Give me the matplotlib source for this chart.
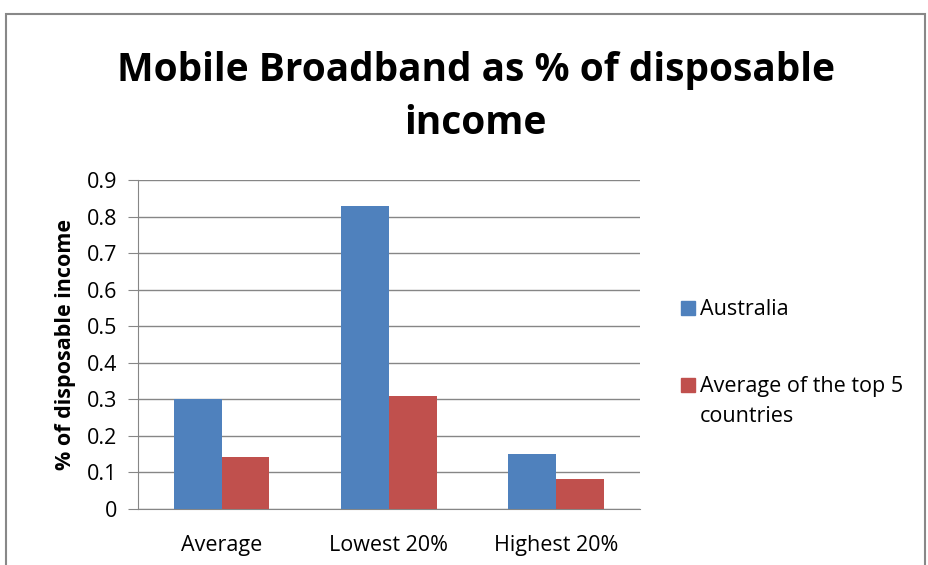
import matplotlib.pyplot as plt
import numpy as np
from matplotlib.patches import Rectangle

categories = ['Average', 'Lowest 20%', 'Highest 20%']
australia = [0.30, 0.83, 0.15]
top5_avg = [0.142, 0.31, 0.083]
series_names = ['Australia', 'Average of the top 5\ncountries']
colors = ['#4f81bd', '#c0504d']
yticks = [0, 0.1, 0.2, 0.3, 0.4, 0.5, 0.6, 0.7, 0.8, 0.9]

plt.rcParams['font.family'] = ['Open Sans', 'DejaVu Sans']

fig = plt.figure(figsize=(9.29, 5.65), dpi=100)
ax = fig.add_axes([0.1486, 0.0991, 0.540, 0.5823])

x = np.arange(len(categories))
w = 1 / 3.5
ax.bar(x - w / 2, australia, w, color=colors[0], zorder=3)
ax.bar(x + w / 2, top5_avg, w, color=colors[1], zorder=3)

ax.set_xlim(-0.5, 2.5)
ax.set_ylim(0, 0.9)
ax.set_yticks(yticks)
ax.set_yticklabels(['0'] + ['%.1f' % v for v in yticks[1:]])
ax.set_xticks(x)
ax.set_xticklabels(categories)
ax.grid(axis='y', color='#868686', lw=1, zorder=0)
for s in ['top', 'right']:
    ax.spines[s].set_visible(False)
for s in ['left', 'bottom']:
    ax.spines[s].set_color('#868686')
ax.tick_params(axis='y', length=7, color='#868686', labelsize=15.5, pad=8)
ax.tick_params(axis='x', length=0, labelsize=15.5, pad=19)
ax.set_ylabel('% of disposable income', fontsize=15.5, fontweight='bold', labelpad=8)

fig.text(0.512, 1 - 97 / 565, 'Mobile Broadband as % of disposable\nincome', ha='center', va='center',
         fontsize=28, fontweight='bold', linespacing=1.5)

# legend, drawn by hand so the swatch sits on the first text line
leg_y = [1 - 308 / 565, 1 - 385 / 565]
for name, c, yy in zip(series_names, colors, leg_y):
    fig.patches.append(Rectangle((681 / 929, yy - 7 / 565), 14 / 929, 14 / 565,
                                 transform=fig.transFigure, color=c))
    fig.text(700 / 929, yy + 9 / 565, name, ha='left', va='top', fontsize=15.5,
             linespacing=1.55)

fig.patches.append(Rectangle((0.006, -0.1), 0.99, 1.075, transform=fig.transFigure,
                             fill=False, edgecolor='#888888', lw=1.5))

fig.savefig('out.png', dpi=100)
